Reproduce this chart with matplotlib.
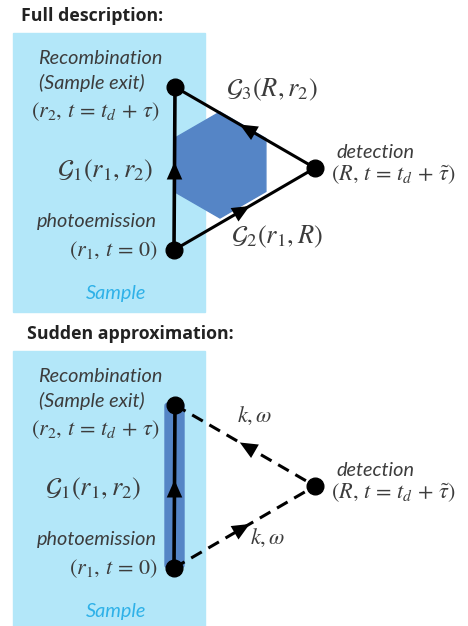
import matplotlib.pyplot as plt
from matplotlib.patches import Rectangle, RegularPolygon, FancyBboxPatch

plt.rcParams['mathtext.fontset'] = 'stix'

# textes des deux panneaux
titres = ["Full description:", "Sudden approximation:"]
etiquettes_gauche = ["Recombination", "(Sample exit)", r"$(r_2,\, t\,=\,t_d\,+\,\tau)$",
                     "photoemission", r"$(r_1,\, t\,=\,0)$", "Sample"]
etiquette_g1 = r"$\mathcal{G}_1(r_1, r_2)$"
etiquette_g2 = r"$\mathcal{G}_2(r_1, R)$"
etiquette_g3 = r"$\mathcal{G}_3(R, r_2)$"
etiquettes_detection = ["detection", r"$(R,\, t\,=\,t_d\,+\,\tilde{\tau})$"]
etiquette_kw = r"$k, \omega$"

gris = '#3c3c3c'
bleu_clair = '#b3e7f9'
bleu = '#5585c6'
bleu_sample = '#2eb1e8'
police = 'Lato'
taille_txt = 14.3
taille_math = 16
taille_g = 19

fig = plt.figure(figsize=(4.68, 6.26), dpi=100)
ax = fig.add_axes([0, 0, 1, 1])
ax.set_xlim(0, 468)
ax.set_ylim(626, 0)
ax.axis('off')


def fleche(x, y, dx, dy):
    ax.annotate("", xy=(x + dx * 6, y + dy * 6), xytext=(x - dx * 6, y - dy * 6),
                arrowprops=dict(arrowstyle='-|>,head_length=0.9,head_width=0.4',
                                color='black', lw=0, shrinkA=0, shrinkB=0,
                                mutation_scale=14), zorder=6)


def panneau(y0, complet):
    ax.text(21 if complet else 27, y0 + 16, titres[0 if complet else 1],
            fontsize=12.8, fontweight='bold', family='Open Sans', color='#222222',
            va='center', ha='left')
    ax.add_patch(Rectangle((13, y0 + 33), 192, 279 if complet else 306,
                           color=bleu_clair, zorder=0))

    haut = (175, y0 + 87)
    bas = (174, y0 + 250)
    droite = (315, y0 + 168)

    if complet:
        ax.add_patch(RegularPolygon((220, y0 + 165), 6, radius=53,
                                    color=bleu, zorder=1))
        style = '-'
    else:
        ax.add_patch(FancyBboxPatch((165, y0 + 85), 19, 165,
                                    boxstyle='round,pad=0,rounding_size=3',
                                    color=bleu, zorder=1))
        style = (0, (4, 2.5))

    ax.plot([bas[0], haut[0]], [bas[1], haut[1]], color='black', lw=2.6, zorder=3)
    ax.plot([haut[0], droite[0]], [haut[1], droite[1]], color='black', lw=2.2,
            linestyle=style, zorder=3)
    ax.plot([bas[0], droite[0]], [bas[1], droite[1]], color='black', lw=2.2,
            linestyle=style, zorder=3)
    for p in (haut, bas, droite):
        ax.plot(p[0], p[1], 'o', color='black', ms=12, zorder=5)

    fleche(174.5, y0 + 168, 0, -1)
    for (px, py), (qx, qy) in ((droite, haut), (bas, droite)):
        dx, dy = qx - px, qy - py
        n = (dx * dx + dy * dy) ** 0.5
        fleche(px + dx * 0.5, py + dy * 0.5, dx / n, dy / n)

    # textes de gauche
    ax.text(100, y0 + 58, etiquettes_gauche[0], fontsize=taille_txt, style='italic',
            family=police, color=gris, ha='center', va='center')
    ax.text(92, y0 + 83, etiquettes_gauche[1], fontsize=taille_txt, style='italic',
            family=police, color=gris, ha='center', va='center')
    ax.text(95, y0 + 112, etiquettes_gauche[2], fontsize=taille_math, color=gris,
            ha='center', va='center')
    ax.text(97, y0 + 222, etiquettes_gauche[3], fontsize=taille_txt, style='italic',
            family=police, color=gris, ha='center', va='center')
    ax.text(113, y0 + 251, etiquettes_gauche[4], fontsize=taille_math, color=gris,
            ha='center', va='center')
    ax.text(116, y0 + 293, etiquettes_gauche[5], fontsize=taille_txt, style='italic',
            family=police, color=bleu_sample, ha='center', va='center')
    ax.text(105 if complet else 93, y0 + 171, etiquette_g1, fontsize=taille_g,
            color=gris, ha='center', va='center')

    ax.text(375, y0 + 153, etiquettes_detection[0], fontsize=taille_txt, style='italic',
            family=police, color=gris, ha='center', va='center')
    ax.text(394, y0 + 175, etiquettes_detection[1], fontsize=taille_math, color=gris,
            ha='center', va='center')

    if complet:
        ax.text(272, y0 + 90, etiquette_g3, fontsize=taille_g, color=gris,
                ha='center', va='center')
        ax.text(277, y0 + 237, etiquette_g2, fontsize=taille_g, color=gris,
                ha='center', va='center')
    else:
        ax.text(255, y0 + 98, etiquette_kw, fontsize=taille_math, color=gris,
                ha='center', va='center')
        ax.text(268, y0 + 220, etiquette_kw, fontsize=taille_math, color=gris,
                ha='center', va='center')


panneau(0, True)
panneau(318, False)

fig.savefig("out.png", dpi=100)
